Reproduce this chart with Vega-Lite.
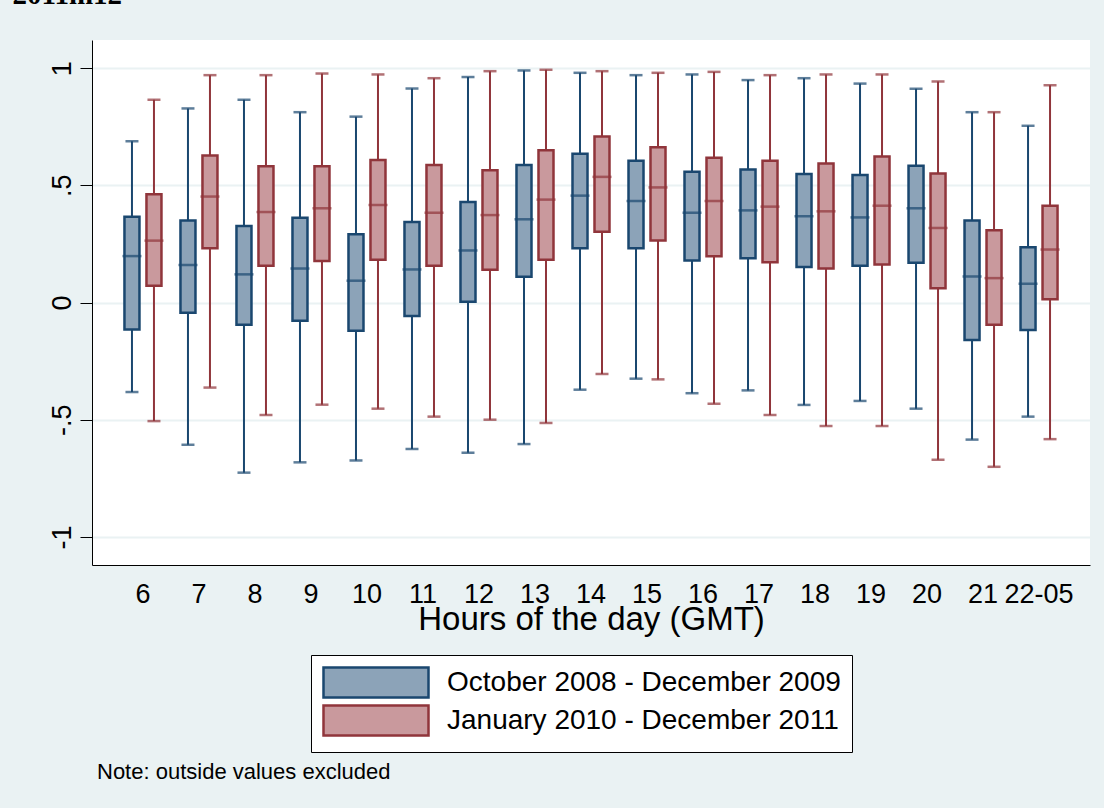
{
  "$schema": "https://vega.github.io/schema/vega-lite/v6.json",
  "width": 998,
  "height": 525,
  "autosize": {"type": "none"},
  "padding": {"left": 92, "top": 40, "right": 14, "bottom": 243},
  "background": "#EAF2F3",
  "config": {"view": {"fill": "white", "stroke": null}, "font": "Liberation Sans"},
  "title": {"text": "Note: outside values excluded", "orient": "bottom", "anchor": "start", "frame": "group", "fontSize": 22, "fontWeight": "normal", "color": "black", "font": "Liberation Sans", "dx": 5, "offset": 9},
  "data": {"values": [
    {"hour": "6", "period": "October 2008 - December 2009", "lo": -0.382, "q1": -0.115, "med": 0.198, "q3": 0.366, "hi": 0.688},
    {"hour": "6", "period": "January 2010 - December 2011", "lo": -0.506, "q1": 0.071, "med": 0.264, "q3": 0.462, "hi": 0.865},
    {"hour": "7", "period": "October 2008 - December 2009", "lo": -0.607, "q1": -0.044, "med": 0.160, "q3": 0.350, "hi": 0.828},
    {"hour": "7", "period": "January 2010 - December 2011", "lo": -0.363, "q1": 0.232, "med": 0.452, "q3": 0.627, "hi": 0.970},
    {"hour": "8", "period": "October 2008 - December 2009", "lo": -0.726, "q1": -0.095, "med": 0.120, "q3": 0.326, "hi": 0.865},
    {"hour": "8", "period": "January 2010 - December 2011", "lo": -0.480, "q1": 0.157, "med": 0.386, "q3": 0.581, "hi": 0.970},
    {"hour": "9", "period": "October 2008 - December 2009", "lo": -0.682, "q1": -0.078, "med": 0.145, "q3": 0.362, "hi": 0.812},
    {"hour": "9", "period": "January 2010 - December 2011", "lo": -0.436, "q1": 0.177, "med": 0.402, "q3": 0.581, "hi": 0.977},
    {"hour": "10", "period": "October 2008 - December 2009", "lo": -0.674, "q1": -0.120, "med": 0.093, "q3": 0.291, "hi": 0.793},
    {"hour": "10", "period": "January 2010 - December 2011", "lo": -0.453, "q1": 0.182, "med": 0.416, "q3": 0.608, "hi": 0.973},
    {"hour": "11", "period": "October 2008 - December 2009", "lo": -0.625, "q1": -0.058, "med": 0.141, "q3": 0.343, "hi": 0.913},
    {"hour": "11", "period": "January 2010 - December 2011", "lo": -0.487, "q1": 0.157, "med": 0.383, "q3": 0.587, "hi": 0.957},
    {"hour": "12", "period": "October 2008 - December 2009", "lo": -0.641, "q1": 0.003, "med": 0.222, "q3": 0.429, "hi": 0.962},
    {"hour": "12", "period": "January 2010 - December 2011", "lo": -0.500, "q1": 0.140, "med": 0.373, "q3": 0.564, "hi": 0.987},
    {"hour": "13", "period": "October 2008 - December 2009", "lo": -0.604, "q1": 0.110, "med": 0.355, "q3": 0.587, "hi": 0.990},
    {"hour": "13", "period": "January 2010 - December 2011", "lo": -0.514, "q1": 0.182, "med": 0.439, "q3": 0.650, "hi": 0.993},
    {"hour": "14", "period": "October 2008 - December 2009", "lo": -0.372, "q1": 0.231, "med": 0.456, "q3": 0.635, "hi": 0.980},
    {"hour": "14", "period": "January 2010 - December 2011", "lo": -0.305, "q1": 0.302, "med": 0.536, "q3": 0.708, "hi": 0.987},
    {"hour": "15", "period": "October 2008 - December 2009", "lo": -0.325, "q1": 0.231, "med": 0.433, "q3": 0.605, "hi": 0.970},
    {"hour": "15", "period": "January 2010 - December 2011", "lo": -0.328, "q1": 0.265, "med": 0.491, "q3": 0.662, "hi": 0.980},
    {"hour": "16", "period": "October 2008 - December 2009", "lo": -0.387, "q1": 0.179, "med": 0.383, "q3": 0.558, "hi": 0.973},
    {"hour": "16", "period": "January 2010 - December 2011", "lo": -0.432, "q1": 0.197, "med": 0.433, "q3": 0.618, "hi": 0.984},
    {"hour": "17", "period": "October 2008 - December 2009", "lo": -0.375, "q1": 0.189, "med": 0.393, "q3": 0.568, "hi": 0.949},
    {"hour": "17", "period": "January 2010 - December 2011", "lo": -0.480, "q1": 0.172, "med": 0.409, "q3": 0.605, "hi": 0.970},
    {"hour": "18", "period": "October 2008 - December 2009", "lo": -0.437, "q1": 0.152, "med": 0.368, "q3": 0.548, "hi": 0.957},
    {"hour": "18", "period": "January 2010 - December 2011", "lo": -0.527, "q1": 0.145, "med": 0.389, "q3": 0.593, "hi": 0.973},
    {"hour": "19", "period": "October 2008 - December 2009", "lo": -0.420, "q1": 0.157, "med": 0.363, "q3": 0.544, "hi": 0.934},
    {"hour": "19", "period": "January 2010 - December 2011", "lo": -0.527, "q1": 0.162, "med": 0.413, "q3": 0.623, "hi": 0.973},
    {"hour": "20", "period": "October 2008 - December 2009", "lo": -0.453, "q1": 0.170, "med": 0.402, "q3": 0.583, "hi": 0.912},
    {"hour": "20", "period": "January 2010 - December 2011", "lo": -0.671, "q1": 0.061, "med": 0.318, "q3": 0.550, "hi": 0.943},
    {"hour": "21", "period": "October 2008 - December 2009", "lo": -0.585, "q1": -0.160, "med": 0.111, "q3": 0.350, "hi": 0.812},
    {"hour": "21", "period": "January 2010 - December 2011", "lo": -0.701, "q1": -0.095, "med": 0.104, "q3": 0.308, "hi": 0.812},
    {"hour": "22-05", "period": "October 2008 - December 2009", "lo": -0.487, "q1": -0.117, "med": 0.080, "q3": 0.236, "hi": 0.754},
    {"hour": "22-05", "period": "January 2010 - December 2011", "lo": -0.583, "q1": 0.014, "med": 0.226, "q3": 0.413, "hi": 0.927}
  ]},
  "encoding": {
    "x": {
      "field": "hour", "type": "nominal",
      "scale": {"domain": ["6","7","8","9","10","11","12","13","14","15","16","17","18","19","20","21","22-05"], "paddingInner": 0, "paddingOuter": 0.41},
      "axis": {"title": "Hours of the day (GMT)", "titleFontSize": 33, "titleFontWeight": "normal", "titleColor": "black", "titlePadding": -4, "labelAngle": 0, "labelFontSize": 27, "labelColor": "black", "labelPadding": 16, "labelOverlap": false, "ticks": false, "domainColor": "black", "domainWidth": 1, "grid": false}
    },
    "xOffset": {
      "field": "period", "type": "nominal",
      "scale": {"domain": ["October 2008 - December 2009", "January 2010 - December 2011"], "paddingInner": 0.318, "paddingOuter": 0.432}
    }
  },
  "layer": [
    {
      "mark": {"type": "rule", "strokeWidth": 2},
      "encoding": {
        "y": {
          "field": "lo", "type": "quantitative",
          "scale": {"domain": [-1.12, 1.12], "nice": false, "zero": false},
          "axis": {
            "values": [-1, -0.5, 0, 0.5, 1],
            "labelExpr": "datum.value == 0.5 ? '.5' : datum.value == -0.5 ? '-.5' : datum.value == 1 ? '1' : datum.value == -1 ? '-1' : '0'",
            "labelAngle": -90, "labelAlign": "center", "labelBaseline": "alphabetic",
            "labelFontSize": 27, "labelColor": "black", "labelPadding": 10,
            "tickSize": 12, "tickColor": "black", "tickWidth": 1,
            "domainColor": "black", "domainWidth": 1,
            "grid": true, "gridColor": "#EAF2F3", "gridWidth": 2,
            "title": "2011m12", "titleAngle": 0, "titleAlign": "left", "titleBaseline": "alphabetic",
            "titleX": -80, "titleY": -37, "titleFont": "Liberation Serif", "titleFontSize": 29, "titleFontWeight": "bold", "titleColor": "black"
          }
        },
        "y2": {"field": "hi"},
        "stroke": {
          "field": "period", "type": "nominal",
          "scale": {"domain": ["October 2008 - December 2009", "January 2010 - December 2011"], "range": ["#1A476F", "#90353B"]},
          "legend": {"title": null, "orient": "none", "legendX": 219, "legendY": 615, "direction": "vertical", "symbolType": "M-1,-1L6,-1L6,1L-1,1Z", "symbolSize": 900, "symbolStrokeWidth": 2.5, "labelFontSize": 28, "labelOffset": 92, "labelColor": "black", "labelLimit": 600, "rowPadding": -3, "padding": 11, "strokeColor": "black", "fillColor": "white"}
        }
      }
    },
    {
      "mark": {"type": "bar", "strokeWidth": 2.5},
      "encoding": {
        "y": {"field": "q1", "type": "quantitative"},
        "y2": {"field": "q3"},
        "fill": {
          "field": "period", "type": "nominal",
          "scale": {"domain": ["October 2008 - December 2009", "January 2010 - December 2011"], "range": ["#8CA3B8", "#C9999D"]},
          "legend": {"title": null, "orient": "none", "legendX": 219, "legendY": 615, "direction": "vertical", "symbolType": "M-1,-1L6,-1L6,1L-1,1Z", "symbolSize": 900, "symbolStrokeWidth": 2.5, "labelFontSize": 28, "labelOffset": 92, "labelColor": "black", "labelLimit": 600, "rowPadding": -3, "padding": 11, "strokeColor": "black", "fillColor": "white"}
        },
        "stroke": {
          "field": "period", "type": "nominal",
          "legend": {"title": null, "orient": "none", "legendX": 219, "legendY": 615, "direction": "vertical", "symbolType": "M-1,-1L6,-1L6,1L-1,1Z", "symbolSize": 900, "symbolStrokeWidth": 2.5, "labelFontSize": 28, "labelOffset": 92, "labelColor": "black", "labelLimit": 600, "rowPadding": -3, "padding": 11, "strokeColor": "black", "fillColor": "white"}
        }
      }
    },
    {
      "mark": {"type": "tick", "thickness": 2.5, "size": 19},
      "encoding": {
        "y": {"field": "med", "type": "quantitative"},
        "color": {"field": "period", "type": "nominal", "scale": {"domain": ["October 2008 - December 2009", "January 2010 - December 2011"], "range": ["#1A476F", "#90353B"]}, "legend": null}
      }
    },
    {
      "mark": {"type": "tick", "thickness": 2.5, "size": 13},
      "encoding": {
        "y": {"field": "hi", "type": "quantitative"},
        "color": {"field": "period", "type": "nominal", "legend": null}
      }
    },
    {
      "mark": {"type": "tick", "thickness": 2.5, "size": 13},
      "encoding": {
        "y": {"field": "lo", "type": "quantitative"},
        "color": {"field": "period", "type": "nominal", "legend": null}
      }
    }
  ]
}
